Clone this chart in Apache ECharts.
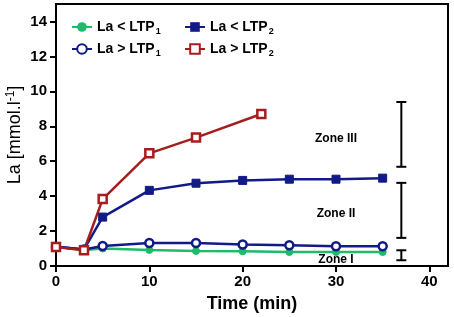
<!DOCTYPE html>
<html>
<head>
<meta charset="utf-8">
<script src="https://cdn.jsdelivr.net/npm/echarts@6/dist/echarts.min.js"></script>
<style>
    * { margin: 0; padding: 0; }
    body { background: #fff; }
</style>
</head>
<body>
<div id="chart" style="width: 454px;height: 317px;"></div>
<script>
    // time points (min)
    var timeAll = [0, 3, 5, 10, 15, 20, 25, 30, 35];
    var timeRed = [0, 3, 5, 10, 15, 22];
    // lactate values (mmol/l)
    var laBelowLTP1 = [1.1, 0.92, 1.0, 0.92, 0.86, 0.84, 0.8, 0.8, 0.8];
    var laAboveLTP1 = [1.1, 0.95, 1.15, 1.32, 1.32, 1.23, 1.19, 1.13, 1.13];
    var laBelowLTP2 = [1.1, 0.95, 2.8, 4.33, 4.74, 4.9, 4.97, 4.97, 5.03];
    var laAboveLTP2 = [1.09, 0.9, 3.83, 6.45, 7.35, 8.7];
    // zone bars: [time, low, high]
    var zoneBars = [[37, 5.68, 9.39], [37, 1.61, 4.76], [37, 0.33, 0.9]];
    // zone labels: [time, value, text]
    var zoneLabels = [[30, 7.3, 'Zone III'], [30, 3.02, 'Zone II'], [30, 0.38, 'Zone I']];

    function pairs(xs, ys) {
        return xs.map(function (x, i) { return [x, ys[i]]; });
    }

    var green = '#1fba6a', navy = '#111a86', red = '#a51e1e';
    var legendRich = {
        a: { fontFamily: 'Arial', fontWeight: 'bold', fontSize: 14, color: '#000' },
        s: { fontFamily: 'Arial', fontWeight: 'bold', fontSize: 9, color: '#000', padding: [9, 0, 0, 1] }
    };
    function legendFmt(name) {
        return '{a|' + name.slice(0, -1) + '}{s|' + name.slice(-1) + '}';
    }

    var chart = echarts.init(document.getElementById('chart'));
    chart.setOption({
        animation: false,
        grid: {
            left: 56, right: 6, top: 4, bottom: 51,
            outerBoundsMode: 'none', containLabel: false,
            show: true, borderColor: '#000', borderWidth: 2
        },
        legend: [{
            orient: 'vertical', left: 66, top: 15,
            itemWidth: 20, itemHeight: 12, itemGap: 6,
            data: ['La < LTP1', 'La > LTP1'],
            formatter: legendFmt,
            textStyle: { rich: legendRich }
        }, {
            orient: 'vertical', left: 179, top: 15,
            itemWidth: 20, itemHeight: 12, itemGap: 6,
            data: ['La < LTP2', 'La > LTP2'],
            formatter: legendFmt,
            textStyle: { rich: legendRich }
        }],
        xAxis: {
            type: 'value', min: 0, max: 42, interval: 10,
            name: 'Time (min)', nameLocation: 'middle', nameGap: 29, nameMoveOverlap: false,
            nameTextStyle: { fontFamily: 'Arial', fontWeight: 'bold', fontSize: 18, color: '#000' },
            axisLine: { lineStyle: { color: '#000', width: 2 } },
            axisTick: { length: 6, lineStyle: { color: '#000', width: 2 } },
            axisLabel: { showMaxLabel: false, margin: 8, fontFamily: 'Arial', fontWeight: 'bold', fontSize: 15, color: '#000' },
            splitLine: { show: false }
        },
        yAxis: {
            type: 'value', min: 0, max: 15, interval: 2,
            name: '{a|La [mmol.l}{s|-1}{a|]}', nameLocation: 'middle', nameGap: 31, nameMoveOverlap: false,
            nameTextStyle: {
                rich: {
                    a: { fontFamily: 'Arial', fontSize: 18, color: '#000' },
                    s: { fontFamily: 'Arial', fontSize: 12, color: '#000', padding: [0, 0, 8, 0] }
                }
            },
            axisLine: { lineStyle: { color: '#000', width: 2 } },
            axisTick: { length: 6, lineStyle: { color: '#000', width: 2 } },
            axisLabel: { showMaxLabel: false, margin: 9, fontFamily: 'Arial', fontWeight: 'bold', fontSize: 15, color: '#000' },
            splitLine: { show: false }
        },
        series: [
            {
                name: 'La < LTP1', type: 'line', data: pairs(timeAll, laBelowLTP1),
                symbol: 'circle', symbolSize: 7,
                lineStyle: { color: green, width: 2.5 },
                itemStyle: { color: green, borderColor: green }
            },
            {
                name: 'La > LTP1', type: 'line', data: pairs(timeAll, laAboveLTP1),
                symbol: 'circle', symbolSize: 8,
                lineStyle: { color: navy, width: 2.5 },
                itemStyle: { color: '#fff', borderColor: navy, borderWidth: 2.5 }
            },
            {
                name: 'La < LTP2', type: 'line', data: pairs(timeAll, laBelowLTP2),
                symbol: 'rect', symbolSize: 8,
                lineStyle: { color: navy, width: 2.5 },
                itemStyle: { color: navy, borderColor: navy }
            },
            {
                name: 'La > LTP2', type: 'line', data: pairs(timeRed, laAboveLTP2),
                symbol: 'rect', symbolSize: 8,
                lineStyle: { color: red, width: 2.5 },
                itemStyle: { color: '#fff', borderColor: red, borderWidth: 2.5 }
            },
            {
                type: 'custom', silent: true, data: zoneBars,
                renderItem: function (params, api) {
                    var top = api.coord([api.value(0), api.value(2)]);
                    var bot = api.coord([api.value(0), api.value(1)]);
                    var st = { stroke: '#000', lineWidth: 2 };
                    return {
                        type: 'group',
                        children: [
                            { type: 'line', shape: { x1: top[0], y1: top[1], x2: bot[0], y2: bot[1] }, style: st },
                            { type: 'line', shape: { x1: top[0] - 5, y1: top[1], x2: top[0] + 5, y2: top[1] }, style: st },
                            { type: 'line', shape: { x1: bot[0] - 5, y1: bot[1], x2: bot[0] + 5, y2: bot[1] }, style: st }
                        ]
                    };
                }
            },
            {
                type: 'scatter', silent: true, symbolSize: 0, data: zoneLabels,
                itemStyle: { opacity: 1 },
                label: {
                    show: true, position: 'inside',
                    formatter: function (p) { return p.value[2]; },
                    fontFamily: 'Arial', fontWeight: 'bold', fontSize: 12, color: '#000'
                }
            }
        ]
    });
</script>
</body>
</html>
